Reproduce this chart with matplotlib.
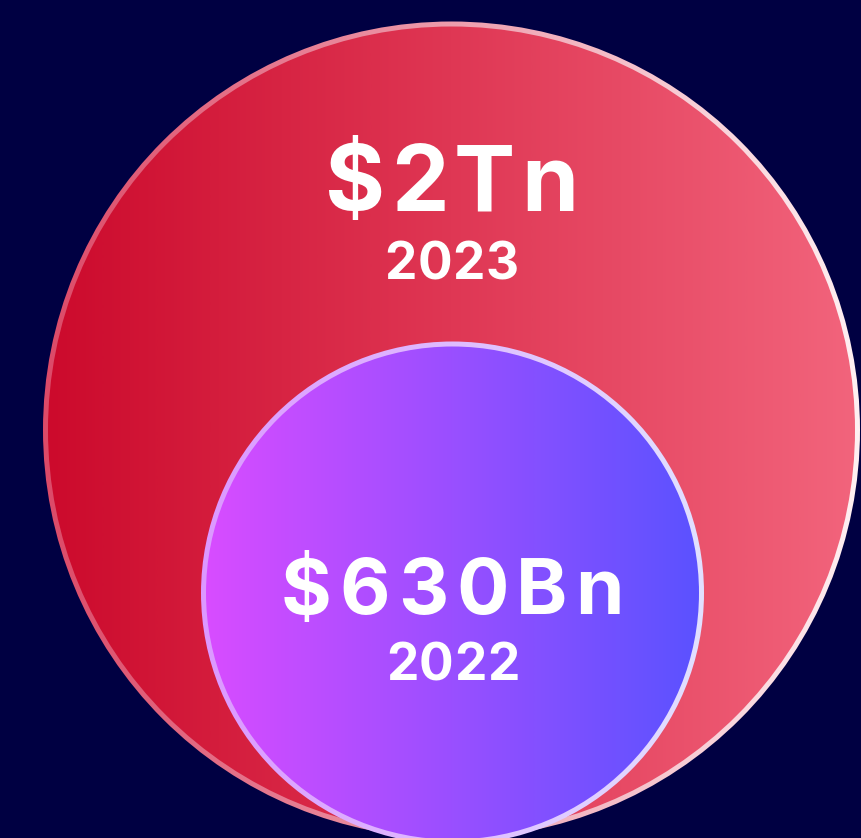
import numpy as np
import matplotlib
matplotlib.use("Agg")
import matplotlib.pyplot as plt
from matplotlib.patches import Circle
from matplotlib.colors import LinearSegmentedColormap

# data
labels = ["$2Tn", "$630Bn"]
years = ["2023", "2022"]

# layout (pixels, y down)
centers = [(451.5, 430), (452.5, 593)]
radii = [408.5, 251.5]
stroke = 5
fills = [["#cc0a2c", "#f2647c"], ["#d84cff", "#5b52ff"]]
strokes = [["#dc4a68", "#fff0f2"], ["#dc98ff", "#e2e0ff"]]
baselines = [[211, 279], [614, 680]]
label_size = [66, 56]
year_size = [37, 37]
track = [0.062, 0.10]
year_track = 0.01

W, H = 862, 838
fig = plt.figure(figsize=(W / 100, H / 100), dpi=100)
fig.patch.set_facecolor("#000042")
ax = fig.add_axes([0, 0, 1, 1])
ax.set_xlim(0, W)
ax.set_ylim(H, 0)
ax.axis("off")
renderer = fig.canvas.get_renderer()

grad = np.linspace(0, 1, 512).reshape(1, -1)


def grad_disc(c, r, cols, z):
    cx, cy = c
    cmap = LinearSegmentedColormap.from_list("g", cols)
    im = ax.imshow(grad, cmap=cmap, extent=[cx - r, cx + r, cy + r, cy - r],
                   aspect="auto", zorder=z, interpolation="bilinear")
    im.set_clip_path(Circle(c, r, transform=ax.transData))


def spaced_text(x, y, s, size, tr):
    kw = dict(color="white", fontsize=size, fontweight="bold",
              family="Inter", va="baseline", ha="left", zorder=10)
    em = size * 100 / 72
    widths = []
    for k in range(len(s) + 1):
        if k == 0:
            widths.append(0)
            continue
        t = ax.text(0, 0, s[:k], **kw)
        widths.append(t.get_window_extent(renderer).width)
        t.remove()
    total = widths[-1] + tr * em * (len(s) - 1)
    x0 = x - total / 2
    for k, ch in enumerate(s):
        ax.text(x0 + widths[k] + k * tr * em, y, ch, **kw)


for i in range(2):
    grad_disc(centers[i], radii[i], strokes[i], 2 * i + 1)
    grad_disc(centers[i], radii[i] - stroke, fills[i], 2 * i + 1.5)
    spaced_text(centers[i][0], baselines[i][0], labels[i], label_size[i], track[i])
    spaced_text(centers[i][0], baselines[i][1], years[i], year_size[i], year_track)

fig.savefig("out.png", dpi=100, facecolor=fig.get_facecolor())
